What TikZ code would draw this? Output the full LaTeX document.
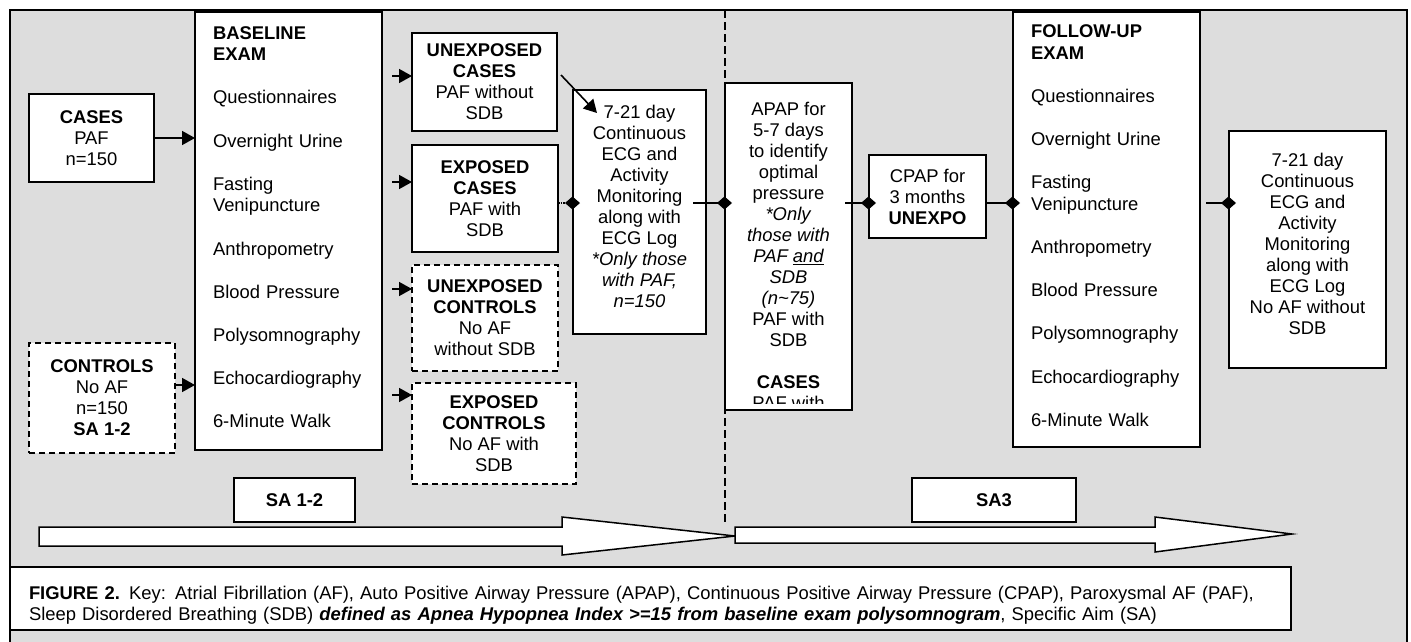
\documentclass[tikz,border=0pt]{standalone}
\usepackage{fontspec}
\setmainfont{Liberation Sans}
\usepackage{tikz}
\usetikzlibrary{arrows.meta}
\definecolor{dddddd}{rgb}{0.867,0.867,0.867}
\hyphenpenalty=10000

\begin{document}
\begin{tikzpicture}[line join=miter,x=1pt,y=-1pt,
  >={Triangle[length=13pt,width=14pt]},
  box/.style={draw,fill=white,line width=1.9pt,anchor=north west,
    inner sep=0pt,outer sep=0pt,align=center,
    font=\fontsize{18.4}{21}\selectfont},
  dbox/.style={box,line width=1.6pt,dash pattern=on 6pt off 4pt},
  exam/.style={box,align=left,text width=151pt,
    font=\fontsize{18.4}{21.6}\selectfont},
  link/.style={line width=1.6pt},
  dia/.style={link,-{Diamond[length=15pt,width=13pt]},shorten >=-7pt}]
  \useasboundingbox (0,0) rectangle (1411,641);
  \fill[dddddd] (10,10) rectangle (1407,660);
  \draw[line width=2.2pt] (10,10) rectangle (1407,660);
  \draw[line width=1.2pt,dash pattern=on 8pt off 4pt] (725,10) -- (725,522);
  \draw[fill=white,line width=1.5pt] (39,527) -- (562,527) -- (562,517)
  -- (735,536) -- (562,555) -- (562,546) -- (39,546) -- cycle;
  \draw[fill=white,line width=1.5pt] (735,527) -- (1155,527) -- (1155,517)
  -- (1292,534) -- (1155,552) -- (1155,543) -- (735,543) -- cycle;
  \node[box,minimum width=125pt,minimum height=88pt] (cases) at (29,94)
  {\textbf{CASES}\\PAF\\n=150};
  \node[dbox,minimum width=146pt,minimum height=110pt] (ctrl) at (29,343)
  {\textbf{CONTROLS}\\No AF\\n=150\\\textbf{SA 1-2}};
  \node[exam,minimum width=187pt,minimum height=438pt] (base) at (195,12)
  {\textbf{BASELINE}\\\textbf{EXAM}\\[21.6pt]Questionnaires\\[21.6pt]Overnight
    Urine\\[21.6pt]Fasting\\Venipuncture\\[21.6pt]Anthropometry\\[21.6pt]Blood
    Pressure\\[21.6pt]Polysomnography\\[21.6pt]Echocardiography\\[21.6pt]6-Minute
    Walk\rule[-8pt]{0pt}{8pt}};
  \node[box,minimum width=145pt,minimum height=98pt] (ucase) at (412,33)
  {\textbf{UNEXPOSED}\\\textbf{CASES}\\PAF without\\SDB};
  \node[box,minimum width=146pt,minimum height=107pt] (ecase) at (412,145)
  {\textbf{EXPOSED}\\\textbf{CASES}\\PAF with\\SDB};
  \node[dbox,minimum width=146pt,minimum height=106pt] (uctrl) at (412,265)
  {\textbf{UNEXPOSED}\\\textbf{CONTROLS}\\No AF\\without SDB};
  \node[dbox,minimum width=164pt,minimum height=101pt] (ectrl) at (412,383)
  {\textbf{EXPOSED}\\\textbf{CONTROLS}\\No AF with\\SDB};
  \node[box,minimum width=133pt,minimum height=244pt] (ecga) at (573,90)
  {7-21 day\\Continuous\\ECG and\\Activity\\Monitoring\\along with\\ECG
    Log\\\textit{*Only those}\\\textit{with PAF,}\\\textit{n=150}\rule[-12pt]{0pt}{12pt}};
  \node[box,minimum width=127pt,minimum height=327pt] (apap) at (725,83) {};
  \begin{scope}
    \clip (apap.north west) rectangle ([yshift=7pt]apap.south east);
    \node[anchor=north,align=center,inner sep=0pt,
    font=\fontsize{18.4}{21}\selectfont] (apaptxt) at ([yshift=-19pt]apap.north)
    {APAP for\\5-7 days\\to identify\\optimal\\pressure\\\textit{*Only}\\\textit{those
        with}\\\textit{PAF \underline{and}}\\\textit{SDB}\\\textit{(n\textasciitilde 75)}\\PAF
      with\\SDB\\[21pt]\textbf{CASES}\\PAF with};
  \end{scope}
  \node[box,minimum width=117pt,minimum height=83pt] (cpap) at (869,155)
  {CPAP for\\3 months\\\textbf{UNEXPO}};
  \node[exam,minimum width=187pt,minimum height=435pt] (fup) at (1013,12)
  {\textbf{FOLLOW-UP}\\\textbf{EXAM}\\[21.6pt]Questionnaires\\[21.6pt]Overnight
    Urine\\[21.6pt]Fasting\\Venipuncture\\[21.6pt]Anthropometry\\[21.6pt]Blood
    Pressure\\[21.6pt]Polysomnography\\[21.6pt]Echocardiography\\[21.6pt]6-Minute
    Walk\rule[-8pt]{0pt}{8pt}};
  \node[box,minimum width=157pt,minimum height=237pt] (ecgb) at (1229,131)
  {7-21 day\\Continuous\\ECG and\\Activity\\Monitoring\\along with\\ECG Log\\No
    AF without\\SDB\rule[-12pt]{0pt}{12pt}};
  \node[box,minimum width=121pt,minimum height=44pt] (sab) at (234,478)
  {\textbf{SA 1-2}};
  \node[box,minimum width=164pt,minimum height=44pt] (sac) at (912,478)
  {\textbf{SA3}};
  \node[box,line width=2.2pt,align=left,text width=1243pt,minimum width=1281pt,
  minimum height=63pt] (key) at (10,567)
  {\rule{0pt}{26pt}\textbf{FIGURE 2.} Key: Atrial Fibrillation (AF), Auto Positive
    Airway Pressure (APAP), Continuous Positive Airway Pressure (CPAP), Paroxysmal
    AF (PAF),\\Sleep Disordered Breathing (SDB) \textbf{\textit{defined as Apnea
        Hypopnea Index >=15 from baseline exam polysomnogram}}, Specific Aim (SA)};
  \coordinate (split) at (392,0);
  \coordinate (ecgin) at (597,113);
  \draw[->,link] (cases.east) -- (cases.east -| base.west);
  \draw[->,link] (ctrl.east |- 0,385) -- (base.west |- 0,385);
  \foreach \n/\y in {ucase/76,ecase/182,uctrl/289,ectrl/395}
  \draw[->,link] (split |- 0,\y) -- (\n.west |- 0,\y);
  \draw[->,link] (ucase.east |- 0,75) ++(4,0) -- (ecgin);
  \draw[dia,densely dotted] (ecase.east |- 0,203) -- (ecga.west |- 0,203);
  \draw[dia] (ecga.east |- 0,203) ++(-13,0) -- (apap.west |- 0,203);
  \draw[dia] (apap.east |- 0,203) ++(-7,0) -- (cpap.west |- 0,203);
  \draw[dia] (cpap.east |- 0,203) -- (fup.west |- 0,203);
  \draw[dia] (fup.east |- 0,203) ++(6,0) -- (ecgb.west |- 0,203);
\end{tikzpicture}
\end{document}
